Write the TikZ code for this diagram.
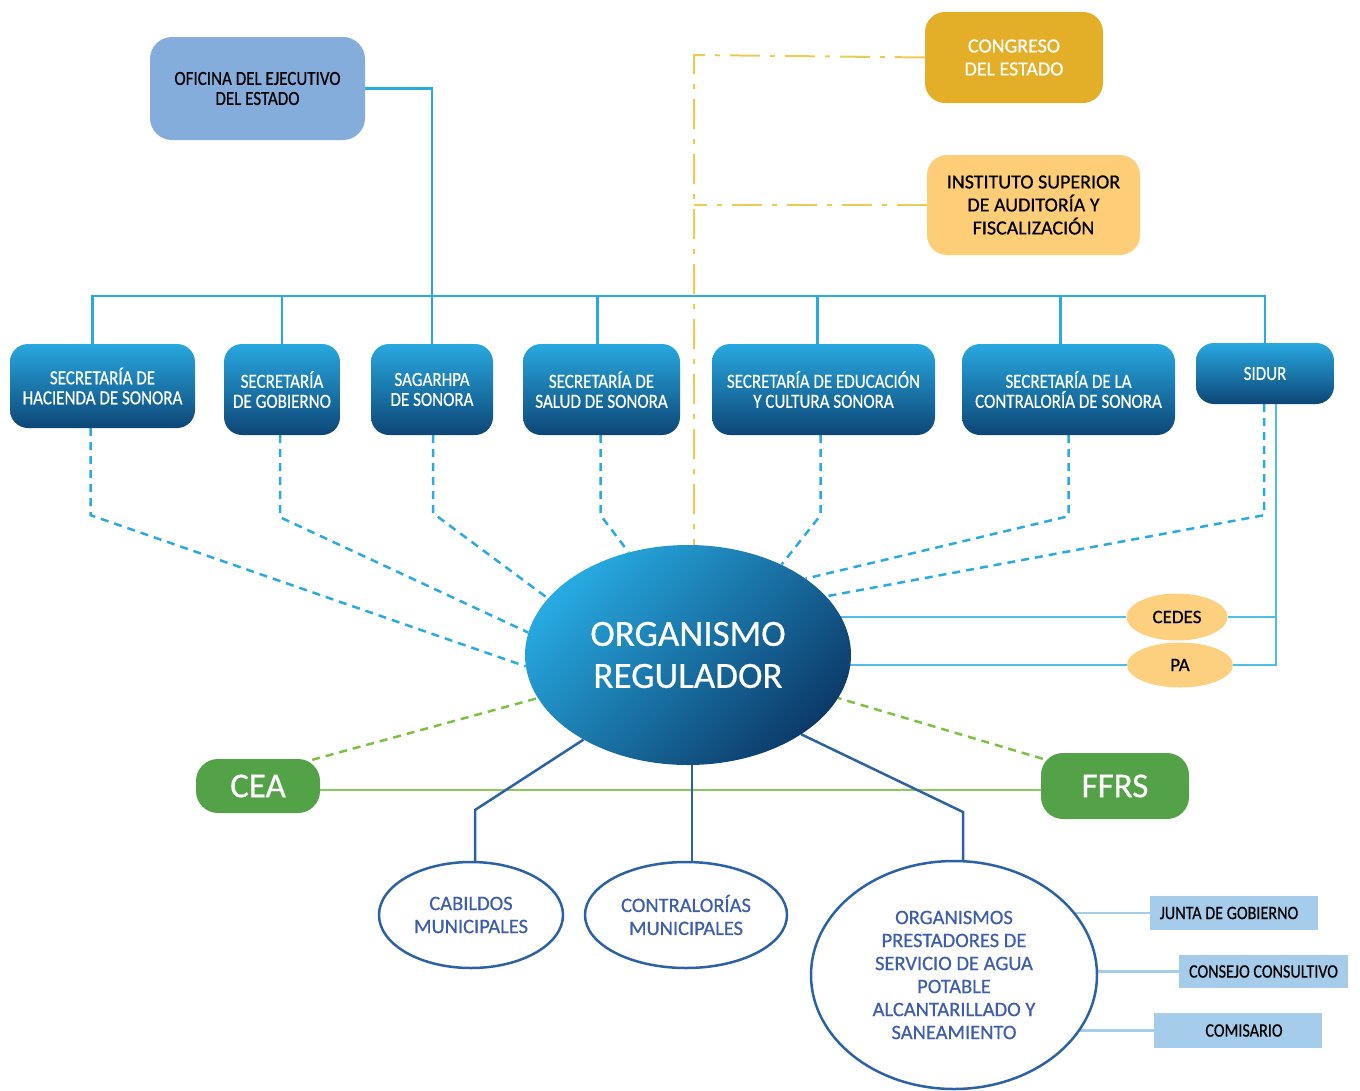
\documentclass[tikz,border=0pt]{standalone}
\usepackage{fontspec}
\setmainfont{Carlito}[FakeBold=0.6,AutoFakeBold=0]
\newfontfamily\condfont{Carlito}[FakeStretch=0.85,FakeBold=0.5]
\usetikzlibrary{shapes.geometric,backgrounds}
\definecolor{cyanL}{HTML}{29ABE2}
\definecolor{cyanS}{HTML}{4DBDEA}
\definecolor{secTop}{HTML}{28A8E0}
\definecolor{secBot}{HTML}{0D4676}
\definecolor{ofiFill}{HTML}{85ADDB}
\definecolor{congFill}{HTML}{E3AE28}
\definecolor{isafFill}{HTML}{FDCD78}
\definecolor{cedesFill}{HTML}{FDD07F}
\definecolor{ceaFill}{HTML}{54A247}
\definecolor{gLine}{HTML}{8DC85A}
\definecolor{gDash}{HTML}{7DC142}
\definecolor{navyL}{HTML}{2B62A6}
\definecolor{botText}{HTML}{3E5DAB}
\definecolor{lbFill}{HTML}{A6CCEB}
\definecolor{yLine}{HTML}{ECCB55}
\definecolor{orgLight}{HTML}{27AAE1}
\definecolor{orgDark}{HTML}{0C3B6A}
\tikzset{
  secbox/.style={rectangle, rounded corners=18pt, top color=secTop, bottom color=secBot,
    text=white, align=center, inner sep=0pt, font=\condfont\fontsize{20}{20}\selectfont},
  ofibox/.style={rectangle, rounded corners=22pt, fill=ofiFill, text=black, align=center,
    inner sep=0pt, font=\condfont\fontsize{20}{20}\selectfont},
  congbox/.style={rectangle, rounded corners=20pt, fill=congFill, text=white, align=center,
    inner sep=0pt, font=\fontsize{20}{23}\selectfont},
  isafbox/.style={rectangle, rounded corners=20pt, fill=isafFill, text=black, align=center,
    inner sep=0pt, font=\fontsize{20}{23}\selectfont},
  orgell/.style={ellipse, inner sep=0pt, top color=orgLight, bottom color=orgDark, shading angle=45,
    text=white, align=center, font=\fontsize{37}{42}\selectfont},
  smallell/.style={ellipse, inner sep=0pt, fill=cedesFill, text=black, font=\fontsize{19}{19}\selectfont},
  greenbox/.style={rectangle, rounded corners=22pt, fill=ceaFill, text=white, inner sep=0pt,
    font=\fontsize{35}{35}\selectfont},
  botell/.style={ellipse, inner sep=0pt, draw=navyL, line width=2.5pt, fill=white, text=botText,
    align=center, font=\fontsize{20.5}{23}\selectfont},
  lbbox/.style={rectangle, fill=lbFill, text=black, inner sep=0pt,
    font=\condfont\fontsize{19}{19}\selectfont},
  bus/.style={draw=cyanL, line width=2.5pt},
  buslight/.style={draw=cyanS, line width=2.5pt},
  dashc/.style={draw=cyanL, line width=2.5pt, dash pattern=on 8pt off 6pt},
  ydd/.style={draw=yLine, line width=2pt, dash pattern=on 30pt off 10pt on 5pt off 10pt},
  gline/.style={draw=gLine, line width=2.5pt},
  gdash/.style={draw=gDash, line width=2.5pt, dash pattern=on 8pt off 6pt},
  navyline/.style={draw=navyL, line width=2.5pt},
  lbline/.style={draw=lbFill, line width=2.5pt}
}
\begin{document}
\begin{tikzpicture}[x=1pt,y=-1pt]
\useasboundingbox (0,0) rectangle (1360,1090);

% top nodes
\node[ofibox, minimum width=215pt, minimum height=103pt] (ofi) at (257.5,88.5) {OFICINA DEL EJECUTIVO\\DEL ESTADO};
\node[congbox, minimum width=178pt, minimum height=91pt] (cong) at (1014,57.5) {CONGRESO\\DEL ESTADO};
\node[isafbox, minimum width=213pt, minimum height=100pt] (isaf) at (1033.5,205) {INSTITUTO SUPERIOR\\DE AUDITORÍA Y\\FISCALIZACIÓN};

% secretariats
\node[secbox, minimum width=185pt, minimum height=84pt] (hac) at (102.5,386) {SECRETARÍA DE\\HACIENDA DE SONORA};
\node[secbox, minimum width=116pt, minimum height=91pt] (gob) at (282,389.5) {SECRETARÍA\\DE GOBIERNO};
\node[secbox, minimum width=122pt, minimum height=91pt] (sag) at (432,389.5) {SAGARHPA\\DE SONORA};
\node[secbox, minimum width=157pt, minimum height=91pt] (sal) at (601.5,389.5) {SECRETARÍA DE\\SALUD DE SONORA};
\node[secbox, minimum width=223pt, minimum height=91pt] (edu) at (823.5,389.5) {SECRETARÍA DE EDUCACIÓN\\Y CULTURA SONORA};
\node[secbox, minimum width=213pt, minimum height=91pt] (con) at (1068.5,389.5) {SECRETARÍA DE LA\\CONTRALORÍA DE SONORA};
\node[secbox, minimum width=138pt, minimum height=61pt] (sidur) at (1265,373.5) {SIDUR};

% central
\node[orgell, minimum width=326pt, minimum height=220pt] (org) at (688,655) {ORGANISMO\\REGULADOR};
\node[smallell, minimum width=101pt, minimum height=47pt] (cedes) at (1177,617) {CEDES};
\node[smallell, minimum width=106pt, minimum height=45pt] (pa) at (1180,665) {PA};

\node[greenbox, minimum width=124pt, minimum height=54pt] (cea) at (258,786) {CEA};
\node[greenbox, minimum width=148pt, minimum height=66pt] (ffrs) at (1115,786) {FFRS};

% bottom
\node[botell, minimum width=184pt, minimum height=106pt] (cab) at (471,915) {CABILDOS\\MUNICIPALES};
\node[botell, minimum width=202pt, minimum height=106pt] (cmun) at (686,915) {CONTRALORÍAS\\MUNICIPALES};
\node[botell, minimum width=286pt, minimum height=228pt] (ops) at (954,975) {ORGANISMOS\\PRESTADORES DE\\SERVICIO DE AGUA\\POTABLE\\ALCANTARILLADO Y\\SANEAMIENTO};

\node[lbbox, minimum width=168pt, minimum height=34pt] (junta) at (1234,913) {\hspace*{-10pt}JUNTA DE GOBIERNO};
\node[lbbox, minimum width=169pt, minimum height=33pt] (consejo) at (1263.5,971.5) {CONSEJO CONSULTIVO};
\node[lbbox, minimum width=168pt, minimum height=35pt] (comis) at (1238,1030.5) {\hspace*{12pt}COMISARIO};

\begin{scope}[on background layer]
  % yellow dash-dot
  \coordinate (yv) at (694,55);
  \draw[ydd] (cong.west) -- (yv) -- (yv |- org.center);
  \draw[ydd] (isaf.west) -- (isaf.west -| yv);

  % bus
  \coordinate (busy) at (0,296);
  \draw[bus] (ofi.east) -| (sag.north);
  \draw[bus] ([xshift=-10pt]hac.north) |- (sidur.north |- busy) -- (sidur.north);
  \draw[bus] (gob.north) -- (gob.north |- busy);
  \draw[bus] ([xshift=-4pt]sal.north) -- ([xshift=-4pt]sal.north |- busy);
  \draw[bus] ([xshift=-6pt]edu.north) -- ([xshift=-6pt]edu.north |- busy);
  \draw[bus] ([xshift=-8pt]con.north) -- ([xshift=-8pt]con.north |- busy);

  % dashed to regulator
  \draw[dashc] ([xshift=-12pt]hac.south) -- ++(0,87) -- (org.184.5);
  \draw[dashc] ([xshift=-2pt]gob.south) -- ++(0,82) -- (org.172);
  \draw[dashc] ([xshift=1pt]sag.south) -- ++(0,78) -- (org.158.5);
  \draw[dashc] ([xshift=-1pt]sal.south) -- ++(0,80) -- (org.120.5);
  \draw[dashc] ([xshift=-3pt]edu.south) -- ++(0,80) -- (org.44.4);
  \draw[dashc] (con.south) -- ++(0,81) -- (org.33.4);
  \draw[dashc] ([xshift=-1pt]sidur.south) -- ++(0,111) -- (org.23.1);

  % CEDES / PA
  \coordinate (sv) at ([xshift=11pt]sidur.south);
  \draw[buslight] (sv) |- (pa.east);
  \draw[buslight] (cedes.east) -- (cedes.east -| sv);
  \draw[buslight] (org.center |- cedes.center) -- (cedes.west);
  \draw[buslight] (org.center |- pa.center) -- (pa.west);

  % green
  \draw[gline] ([yshift=-4pt]cea.east) -- ([yshift=-4pt]ffrs.west);
  \draw[gdash] ([xshift=-8pt,yshift=-1pt]cea.north east) -- (org.196.7);
  \draw[gdash] ([xshift=2pt,yshift=-6pt]ffrs.north west) -- (org.344.7);

  % navy
  \coordinate (nb1) at (475,810);
  \coordinate (nb3) at (963,812);
  \draw[navyline] (org.219) -- (nb1) -- (nb1 |- cab.center);
  \draw[navyline] ([xshift=4pt]org.south) -- ([xshift=4pt]org.south |- cmun.center);
  \draw[navyline] (org.325.2) -- (nb3) -- (nb3 |- ops.center);

  % light blue lines
  \draw[lbline] (ops.center |- junta.west) -- (junta.west);
  \draw[lbline] (ops.center |- consejo.west) -- (consejo.west);
  \draw[lbline] (ops.center |- comis.west) -- (comis.west);
\end{scope}
\end{tikzpicture}
\end{document}
